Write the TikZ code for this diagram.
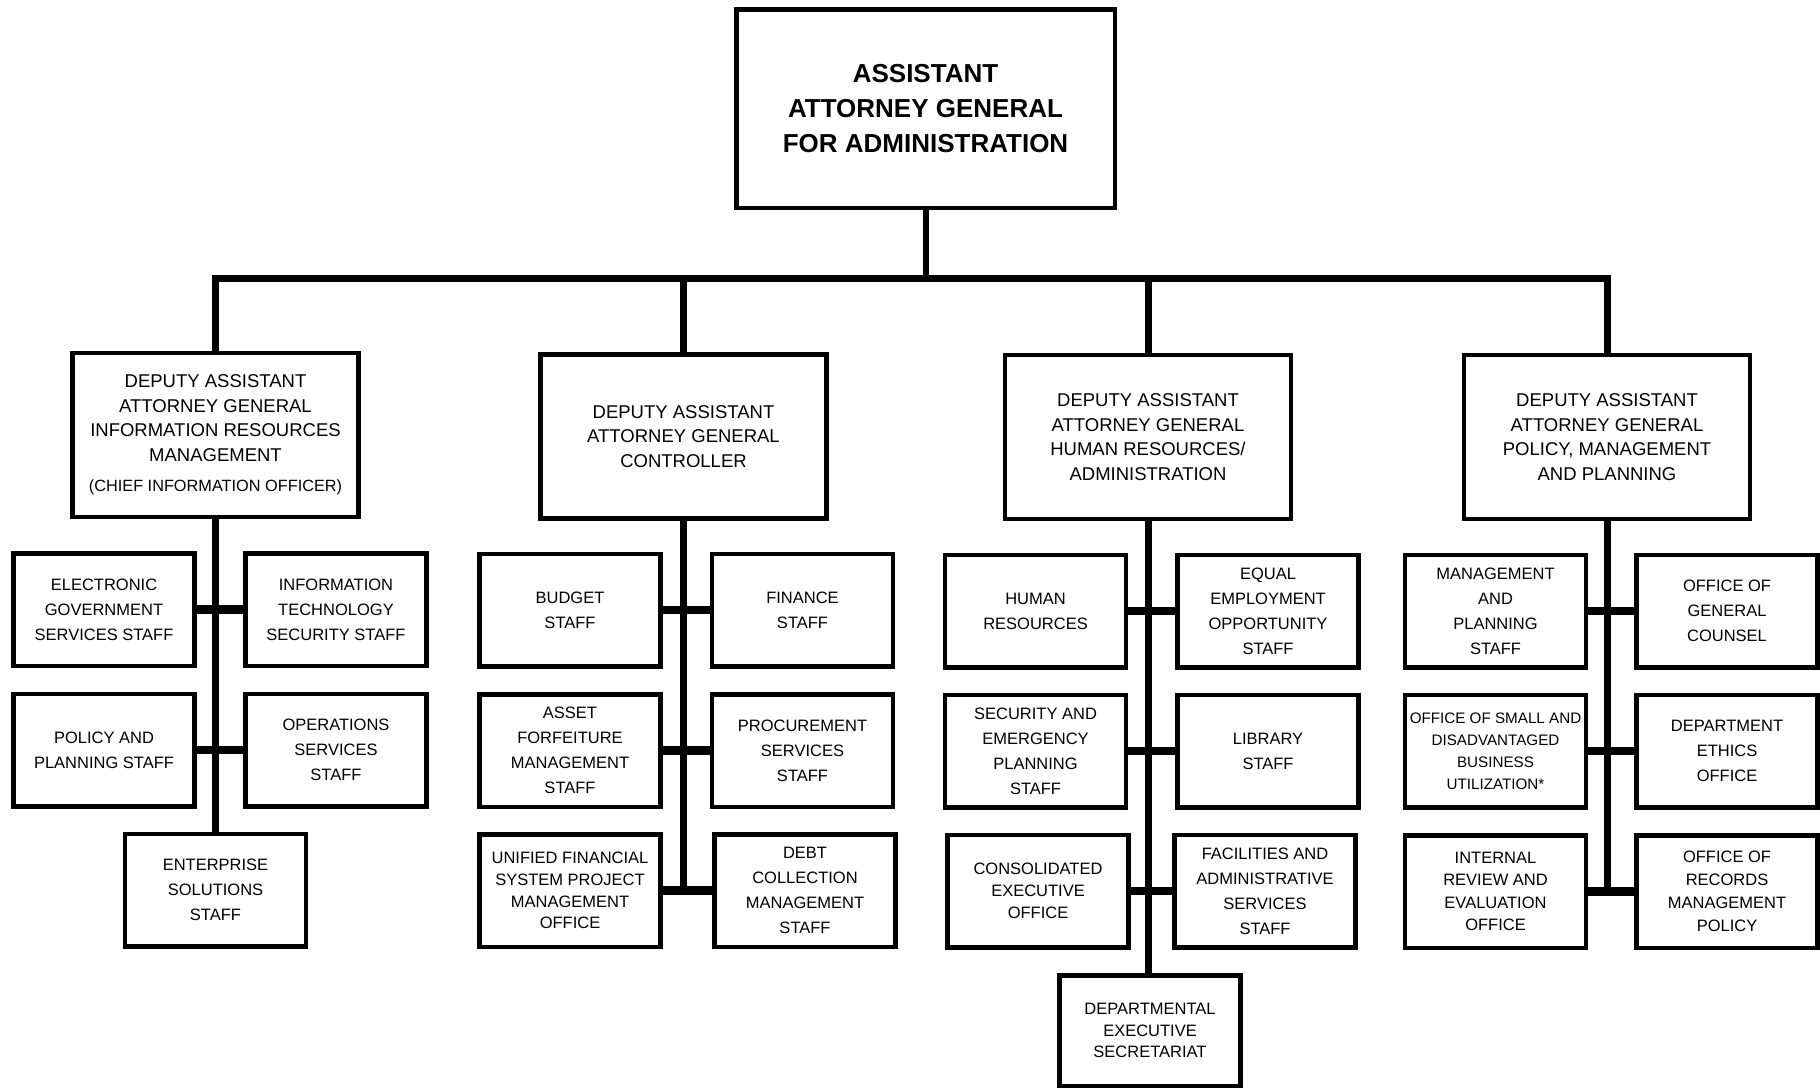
\documentclass[tikz,border=0pt]{standalone}
\usepackage{fontspec}
\setmainfont{Liberation Sans}
\begin{document}
\begin{tikzpicture}[x=1pt,y=-1pt,
  box/.style={draw, line width=4.5pt, align=center, inner sep=0pt,
    minimum width=181pt, minimum height=112.5pt,
    font=\fontsize{16.5}{25}\selectfont},
  tight/.style={font=\fontsize{16.5}{21.7}\selectfont},
  small/.style={font=\fontsize{15.2}{22}\selectfont},
  dep/.style={box, minimum width=286pt, minimum height=164pt,
    font=\fontsize{18.5}{24.5}\selectfont},
  topbox/.style={box, minimum width=378.5pt, minimum height=198.5pt,
    font=\bfseries\fontsize{26}{35}\selectfont},
  trunk/.style={line width=7pt, line join=miter},
  tee/.style={line width=8.5pt}]
\useasboundingbox (0,0) rectangle (1820,1090);

% top
\node[topbox] (aag) at (925.5,108.5) {ASSISTANT\\ATTORNEY GENERAL\\FOR ADMINISTRATION};

% deputies
\node[dep] (d1) at (215.5,435) {DEPUTY ASSISTANT\\ATTORNEY GENERAL\\INFORMATION RESOURCES\\MANAGEMENT\\[6pt]{\fontsize{16.3}{24.5}\selectfont (CHIEF INFORMATION OFFICER)}};
\node[dep] (d2) at (683.5,436.5) {DEPUTY ASSISTANT\\ATTORNEY GENERAL\\CONTROLLER};
\node[dep] (d3) at (1148,437) {DEPUTY ASSISTANT\\ATTORNEY GENERAL\\HUMAN RESOURCES/\\ADMINISTRATION};
\node[dep] (d4) at (1607,437) {DEPUTY ASSISTANT\\ATTORNEY GENERAL\\POLICY, MANAGEMENT\\AND PLANNING};

% group 1
\node[box] (egov) at (104,609.5) {ELECTRONIC\\GOVERNMENT\\SERVICES STAFF};
\node[box] (itsec) at (336,609.5) {INFORMATION\\TECHNOLOGY\\SECURITY STAFF};
\node[box] (pp) at (104,750) {POLICY AND\\PLANNING STAFF};
\node[box] (ops) at (336,750) {OPERATIONS\\SERVICES\\STAFF};
\node[box] (ent) at (215.5,890) {ENTERPRISE\\SOLUTIONS\\STAFF};

% group 2
\node[box] (bud) at (570,610) {BUDGET\\STAFF};
\node[box] (fin) at (802.5,610) {FINANCE\\STAFF};
\node[box] (asset) at (570,750.5) {ASSET\\FORFEITURE\\MANAGEMENT\\STAFF};
\node[box] (proc) at (802.5,750.5) {PROCUREMENT\\SERVICES\\STAFF};
\node[box, tight] (ufms) at (570,890.5) {UNIFIED FINANCIAL\\SYSTEM PROJECT\\MANAGEMENT\\OFFICE};
\node[box] (debt) at (805,890.5) {DEBT\\COLLECTION\\MANAGEMENT\\STAFF};

% group 3
\node[box] (hr) at (1035.5,611) {HUMAN\\RESOURCES};
\node[box] (eeo) at (1268,611) {EQUAL\\EMPLOYMENT\\OPPORTUNITY\\STAFF};
\node[box] (sec) at (1035.5,751) {SECURITY AND\\EMERGENCY\\PLANNING\\STAFF};
\node[box] (lib) at (1268,751) {LIBRARY\\STAFF};
\node[box, tight] (ceo) at (1038,891) {CONSOLIDATED\\EXECUTIVE\\OFFICE};
\node[box] (fac) at (1265,891) {FACILITIES AND\\ADMINISTRATIVE\\SERVICES\\STAFF};
\node[box, tight, minimum height=110.5pt] (des) at (1150,1030.5) {DEPARTMENTAL\\EXECUTIVE\\SECRETARIAT};

% group 4
\node[box] (mp) at (1495.5,611) {MANAGEMENT\\AND\\PLANNING\\STAFF};
\node[box] (ogc) at (1727,611) {OFFICE OF\\GENERAL\\COUNSEL};
\node[box, small] (osdbu) at (1495.5,751) {OFFICE OF SMALL AND\\DISADVANTAGED\\BUSINESS\\UTILIZATION*};
\node[box] (eth) at (1727,751) {DEPARTMENT\\ETHICS\\OFFICE};
\node[box, font=\fontsize{16.5}{22.5}\selectfont] (irr) at (1495.5,891.5) {INTERNAL\\REVIEW AND\\EVALUATION\\OFFICE};
\node[box, font=\fontsize{16.5}{23}\selectfont] (rec) at (1727,891.5) {OFFICE OF\\RECORDS\\MANAGEMENT\\POLICY};

% top connectors
\coordinate (hub) at (925.5,278);
\draw[line width=6pt] (aag.south) -- (hub);
\draw[trunk] (d1.north) |- (hub) -| (d4.north);
\draw[trunk] (d2.north) -- (d2.north |- hub);
\draw[trunk] (d3.north) -- (d3.north |- hub);

% trunks
\draw[trunk] (d1.south) -- (ent.north);
\draw[trunk] (d2.south) -- (d2.south |- ufms.east);
\draw[trunk] (d3.south) -- (d3.south |- des.north);
\draw[trunk] (d4.south) -- (d4.south |- irr.east);

% tees
\draw[tee] (egov.east) -- (itsec.west);
\draw[tee] (pp.east) -- (ops.west);
\draw[tee] (bud.east) -- (fin.west);
\draw[tee] (asset.east) -- (proc.west);
\draw[tee] (ufms.east) -- (debt.west);
\draw[tee] (hr.east) -- (eeo.west);
\draw[tee] (sec.east) -- (lib.west);
\draw[tee] (ceo.east) -- (fac.west);
\draw[tee] (mp.east) -- (ogc.west);
\draw[tee] (osdbu.east) -- (eth.west);
\draw[tee] (irr.east) -- (rec.west);
\end{tikzpicture}
\end{document}
